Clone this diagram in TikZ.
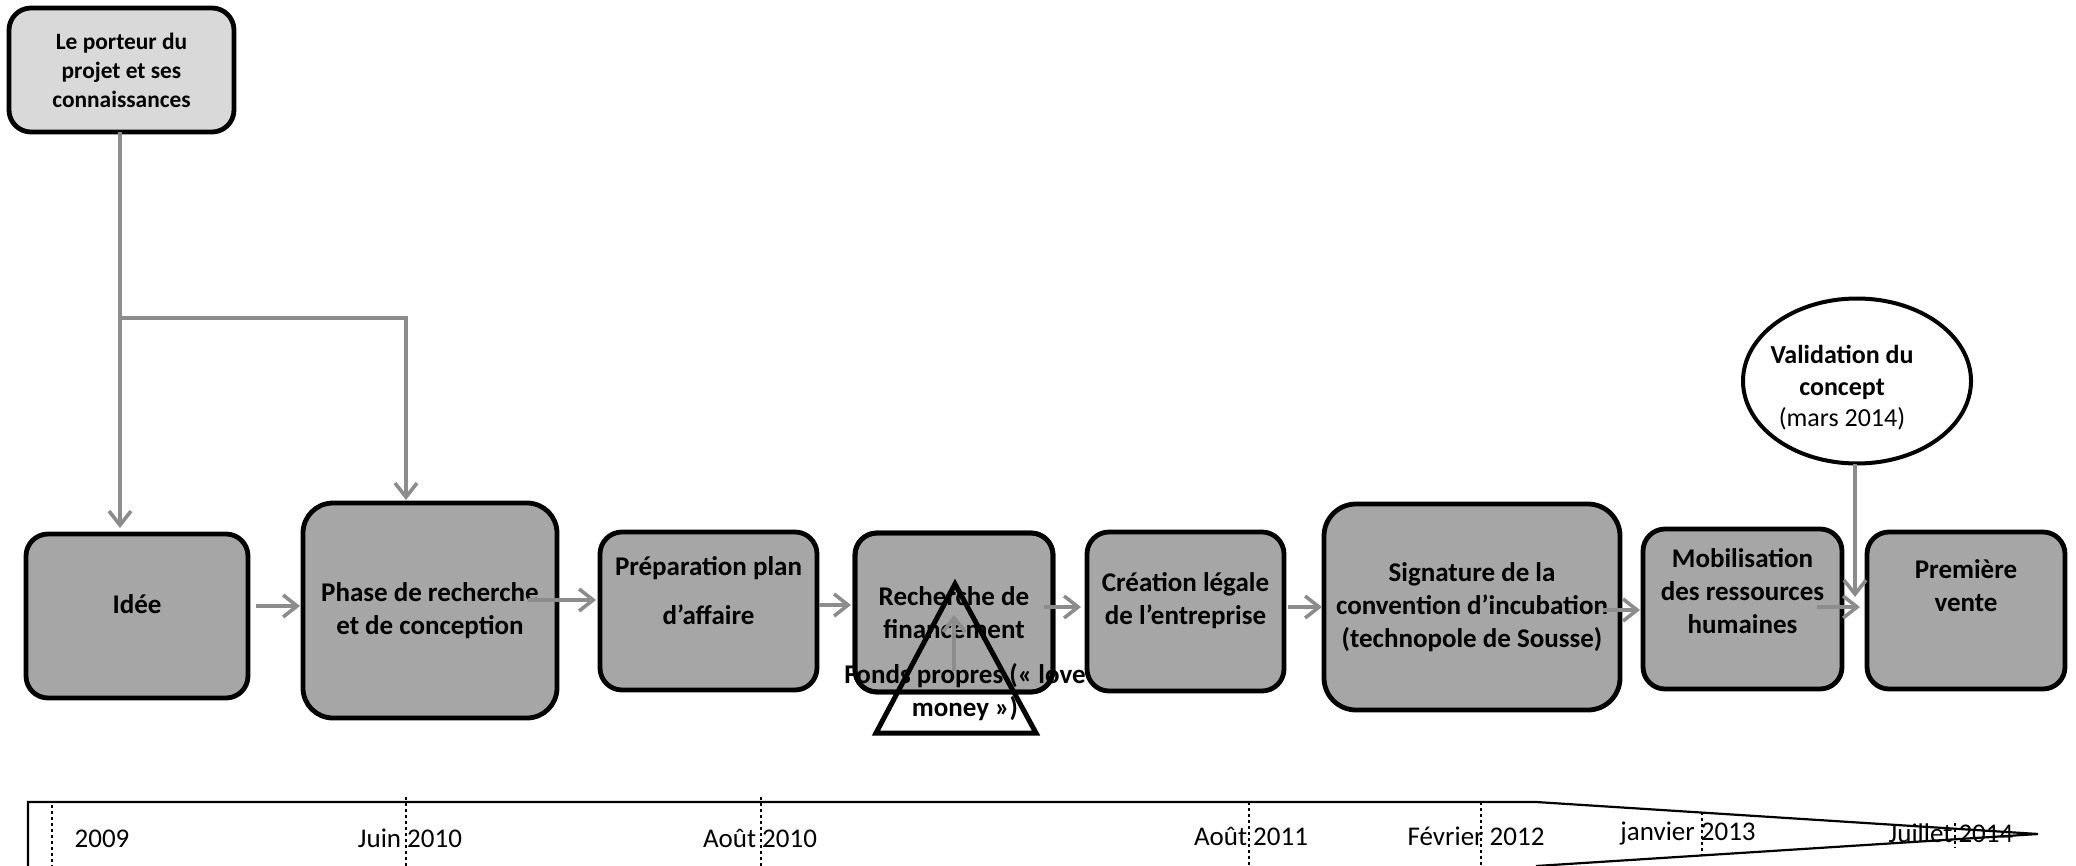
\documentclass[tikz,border=0pt]{standalone}
\usepackage{fontspec}
\setmainfont{Carlito}
\usetikzlibrary{arrows.meta,calc,shapes.geometric}
\definecolor{boxgray}{HTML}{A6A6A6}
\definecolor{lightbox}{HTML}{D9D9D9}
\definecolor{arrgray}{HTML}{8C8C8C}
\tikzset{
 box/.style={draw=black, line width=2.4pt, fill=boxgray, rounded corners=11pt, inner sep=0pt, outer sep=0pt},
 txt/.style={font=\bfseries\fontsize{13.5}{16.5}\selectfont, align=center, inner sep=0pt},
 arr/.style={draw=arrgray, line width=1.8pt, -{Straight Barb[length=7pt,width=11pt,line width=1.8pt]}},
 tickline/.style={line width=1.1pt, dash pattern=on 1.6pt off 1.4pt},
 lab/.style={font=\fontsize{13.5}{16}\selectfont, anchor=base, inner sep=0pt},
}
\begin{document}
\begin{tikzpicture}[x=0.5pt,y=-0.5pt]
\useasboundingbox (0,0) rectangle (2076,866);

% boxes
\node[box, fill=lightbox, minimum width=112.5pt, minimum height=62pt,
      font=\bfseries\fontsize{11.7}{14.5}\selectfont, align=center] (porteur) at (121.5,70)
      {Le porteur du\\projet et ses\\connaissances};
\node[box, minimum width=111pt, minimum height=82pt] (idee) at (137,616) {};
\node[box, rounded corners=15pt, minimum width=127pt, minimum height=107.5pt, txt] (phase) at (430,610.5)
      {Phase de recherche\\et de conception};
\node[box, minimum width=108.5pt, minimum height=79pt] (prep) at (708.5,611) {};
\node[box, minimum width=99pt, minimum height=79.5pt, txt] (rech) at (954,612.5)
      {Recherche de\\financement};
\node[box, minimum width=98.5pt, minimum height=79.5pt] (creation) at (1185.5,611.5) {};
\node[box, rounded corners=16pt, minimum width=148pt, minimum height=103pt, txt] (signature) at (1472,607)
      {Signature de la\\convention d’incubation\\(technopole de Sousse)};
\node[box, minimum width=99.5pt, minimum height=80pt] (mob) at (1742.5,609) {};
\node[box, minimum width=99pt, minimum height=78.5pt] (premiere) at (1966,610.5) {};
\node[draw=black, line width=2pt, fill=white, ellipse, inner sep=0pt, outer sep=0pt,
      minimum width=114pt, minimum height=82.5pt] (valid) at (1857,381) {};

% texts placed off-centre
\node[txt] (ideet) at (137,604) {Idée};
\node[txt, font=\bfseries\fontsize{13.5}{24.5}\selectfont] (prept) at (708.5,591) {Préparation plan\\d’affaire};
\node[txt] (creationt) at (1185.5,601) {Création légale\\de l’entreprise};
\node[txt] (mobt) at (1742.5,591) {Mobilisation\\des ressources\\humaines};
\node[txt] (premieret) at (1966,586) {Première\\vente};
\node[txt, font=\bfseries\fontsize{13}{15.8}\selectfont] (validt) at (1842,388)
      {Validation du\\concept\\{\mdseries(mars 2014)}};

% fonds propres + triangle
\node[txt] (fonds) at (965,692) {Fonds propres (« love\\money »)};
\coordinate (apex) at (955,584);
\coordinate (tbl) at (876,733);
\coordinate (tbr) at (1036,733);
\draw[line width=2.5pt, line join=miter] (apex) -- (tbr) -- (tbl) -- cycle;
\draw[line width=2.4pt, rounded corners=11pt] (rech.south west) rectangle (rech.north east);

% connectors
\coordinate (branch) at (120,318);
\draw[arr] (porteur.south -| branch) -- ($(idee.north -| branch)+(0,-6)$);
\draw[arr] (branch) -| ($(phase.north)+(-24,-3)$);
\draw[arr] ($(idee.east)+(8,-10)$) -- ($(phase.west)+(-3,-4.5)$);
\draw[arr] ($(phase.east)+(-29,-10.5)$) -- ($(prep.west)+(-4,-11)$);
\draw[arr] ($(prep.east)+(2,-6)$) -- ($(rech.west)+(-4,-7.5)$);
\draw[arr] ($(rech.east)+(-9,-5.5)$) -- ($(creation.west)+(-6,-4.5)$);
\draw[arr] ($(creation.east)+(4,-4.5)$) -- ($(signature.west)+(-2,0)$);
\draw[arr] ($(signature.east)+(-17,3)$) -- ($(mob.west)+(-3,1)$);
\draw[arr] ($(mob.east)+(-25,-2)$) -- ($(premiere.west)+(-7,-3.5)$);
\draw[arr] ($(valid.south)+(-2,0)$) -- ($(premiere.west)+(-12,-13.5)$);
\draw[arr] ($(fonds.center)+(-11,-21)$) -- ($(apex)+(-1,31)$);

% timeline
\coordinate (tl0) at (28,866);
\coordinate (tl1) at (28,802);
\coordinate (tl2) at (1536,802);
\coordinate (tip) at (2038,834);
\coordinate (tl3) at (1536,866);
\draw[line width=1.1pt, line join=miter] (tl0) -- (tl1) -- (tl2) -- (tip) -- (tl3);

\draw[tickline] (52,805) -- (52,866);
\draw[tickline] (406,797) -- (406,866);
\draw[tickline] (761,797) -- (761,866);
\draw[tickline] (1249,802) -- (1249,866);
\draw[tickline] (1481,802) -- (1481,866);
\draw[tickline] (1702,812) -- (1702,856);
\draw[tickline] (1955,823) -- (1955,848);

\node[lab] (l2009) at (102,847) {2009};
\node[lab] (ljuin) at (410,847) {Juin 2010};
\node[lab] (laout10) at (760,847) {Août 2010};
\node[lab] (laout11) at (1251,845) {Août 2011};
\node[lab] (lfev) at (1476,845) {Février 2012};
\node[lab] (ljan) at (1688,840) {janvier 2013};
\node[lab] (ljuil) at (1951,842) {Juillet 2014};
\end{tikzpicture}
\end{document}
